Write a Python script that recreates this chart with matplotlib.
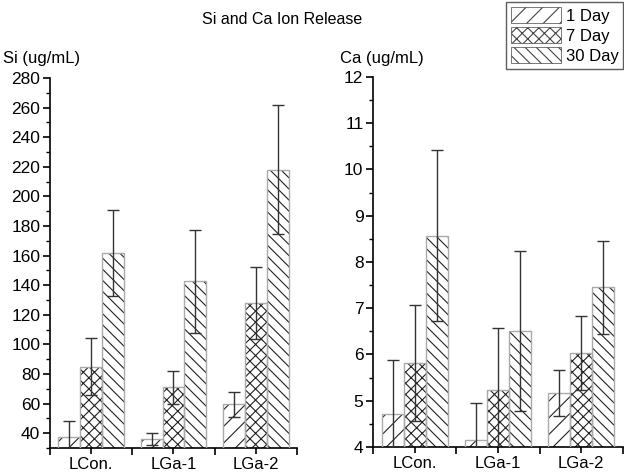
import matplotlib.pyplot as plt
import numpy as np
from matplotlib.patches import Patch

plt.rcParams['font.family'] = ['Liberation Sans', 'DejaVu Sans']
plt.rcParams['hatch.linewidth'] = 0.8

groups = ['LCon.', 'LGa-1', 'LGa-2']
days = ['1 Day', '7 Day', '30 Day']
hatches = ['//', 'xxx', '\\\\\\']

si_mean = [[37.5, 36.0, 59.5], [85.0, 71.0, 128.0], [161.5, 142.5, 218.0]]
si_err = [[10.5, 4.0, 8.5], [19.0, 11.0, 24.5], [29.0, 35.0, 43.5]]
ca_mean = [[4.71, 4.14, 5.16], [5.81, 5.23, 6.04], [8.57, 6.51, 7.45]]
ca_err = [[1.17, 0.82, 0.50], [1.25, 1.34, 0.80], [1.85, 1.73, 1.00]]

fig = plt.figure(figsize=(6.24, 4.75), dpi=100)
ax1 = fig.add_axes([0.080, 0.057, 0.396, 0.779])
ax2 = fig.add_axes([0.598, 0.059, 0.400, 0.779])

x = np.arange(len(groups))
w = 0.265


def draw(ax, means, errs, ylim, major, minor):
    for i in range(3):
        pos = x + (i - 1) * w
        ax.bar(pos, means[i], w, color='white', edgecolor='#222222',
               hatch=hatches[i], linewidth=0, zorder=2)
        ax.bar(pos, means[i], w, fill=False, edgecolor='#aaaaaa',
               linewidth=1.0, zorder=3)
        ax.errorbar(pos, means[i], yerr=errs[i], fmt='none', ecolor='#333333',
                    elinewidth=1.0, capsize=4, capthick=1.0, zorder=4)
    ax.set_xlim(-0.5, 2.5)
    ax.set_ylim(*ylim)
    ax.set_yticks(major)
    ax.set_yticks(minor, minor=True)
    ax.set_xticks(x)
    ax.set_xticklabels(groups, fontsize=12)
    ax.set_xticks([-0.5, 0.5, 1.5, 2.5], minor=True)
    for s in ['top', 'right']:
        ax.spines[s].set_visible(False)
    ax.spines['left'].set_linewidth(1.2)
    ax.spines['bottom'].set_linewidth(1.2)
    ax.tick_params(axis='y', which='major', length=5, width=1.2, labelsize=12.5, pad=2)
    ax.tick_params(axis='y', which='minor', length=3, width=1.0)
    ax.tick_params(axis='x', which='major', length=4, width=1.2, labelsize=12, pad=2.5)
    ax.tick_params(axis='x', which='minor', length=5, width=1.2)


draw(ax1, si_mean, si_err, (30, 280), np.arange(40, 281, 20), np.arange(30, 281, 10))
draw(ax2, ca_mean, ca_err, (4, 12), np.arange(4, 13, 1), np.arange(4, 12.1, 0.5))

fig.text(0.005, 0.868, 'Si (ug/mL)', fontsize=12)
fig.text(0.545, 0.868, 'Ca (ug/mL)', fontsize=12)
fig.text(0.452, 0.95, 'Si and Ca Ion Release', fontsize=11.5, ha='center')

handles = [Patch(facecolor='white', edgecolor='#444444', hatch=h, linewidth=0.5)
           for h in hatches]
leg = fig.legend(handles, days, loc='upper right', bbox_to_anchor=(0.999, 0.995),
                 fontsize=12, frameon=True, fancybox=False, handlelength=3.0,
                 handleheight=1.1, borderpad=0.3, labelspacing=0.2,
                 handletextpad=0.3, borderaxespad=0)
leg.get_frame().set_edgecolor('#333333')
leg.get_frame().set_linewidth(1.0)

fig.savefig('out.png', dpi=100)
